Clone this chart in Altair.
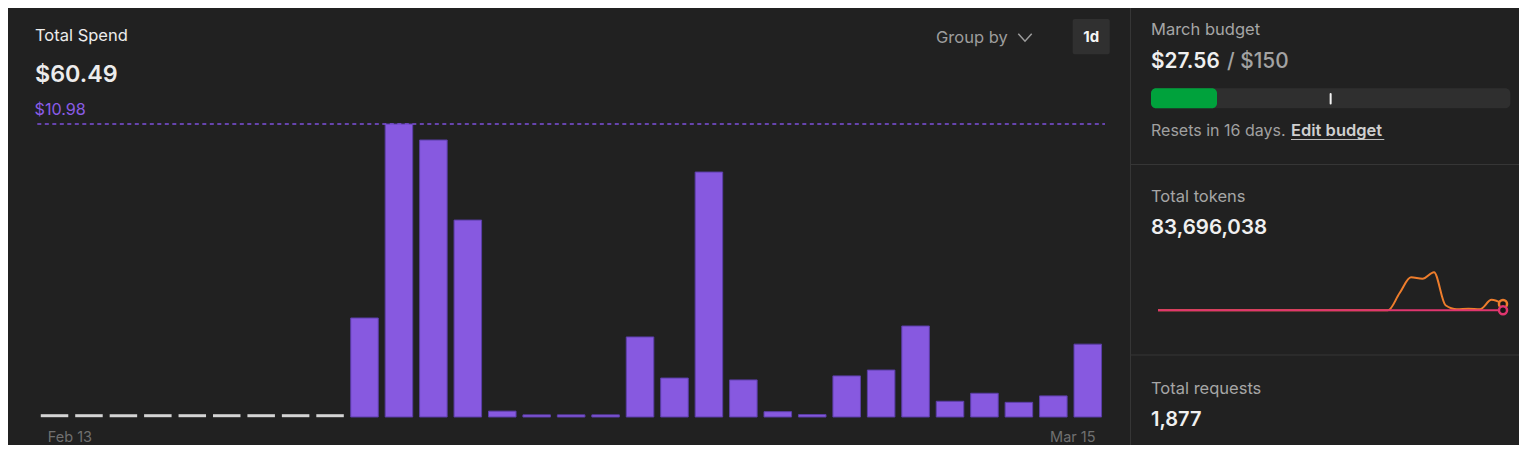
import altair as alt
import pandas as pd

# ---------------- data ----------------
dates = [
    "2023-02-13", "2023-02-14", "2023-02-15", "2023-02-16", "2023-02-17", "2023-02-18",
    "2023-02-19", "2023-02-20", "2023-02-21", "2023-02-22", "2023-02-23", "2023-02-24",
    "2023-02-25", "2023-02-26", "2023-02-27", "2023-02-28", "2023-03-01", "2023-03-02",
    "2023-03-03", "2023-03-04", "2023-03-05", "2023-03-06", "2023-03-07", "2023-03-08",
    "2023-03-09", "2023-03-10", "2023-03-11", "2023-03-12", "2023-03-13", "2023-03-14",
    "2023-03-15",
]
spend = [
    0, 0, 0, 0, 0, 0, 0, 0, 0,
    3.71, 10.98, 10.38, 7.38, 0.22, 0.08, 0.08, 0.08, 3.00, 1.46, 9.18,
    1.39, 0.20, 0.09, 1.54, 1.76, 3.41, 0.59, 0.89, 0.55, 0.79, 2.73,
]
tokens_a = [  # millions per day (orange series)
    0, 0, 0, 0, 0, 0, 0, 0, 0, 0, 0, 0, 0, 0, 0, 0, 0, 0, 0, 0, 0,
    9.8, 19.0, 18.1, 21.9, 2.9, 0.6, 0.9, 0.6, 6.0, 3.6,
]
tokens_b = [0] * 31  # pink series

total_spend = "$60.49"
budget_spent = 27.56
budget_limit = 150
budget_alert = 75
resets_days = 16
total_tokens = "83,696,038"
total_requests = "1,877"

# ---------------- style ----------------
FONT = "Inter"
BG = "#212121"
PURPLE = "#8759e0"
PURPLE_EDGE = "#5b3ea8"
ORANGE = "#ee7d2c"
PINK = "#e0366f"
GREEN = "#00a23c"
SEP = "#363636"
GREY_TXT = "#a6a6a6"
W, H = 1511, 437

one = pd.DataFrame({"k": [0]})


def label(text, x, y, size=16.5, color=GREY_TXT, weight=400, align="left"):
    return alt.Chart(one).mark_text(
        font=FONT, fontSize=size, fontWeight=weight, color=color,
        align=align, baseline="alphabetic",
    ).encode(x=alt.value(x), y=alt.value(y), text=alt.value(text))


# ---------------- spend bar chart ----------------
spend_df = pd.DataFrame({"date": dates, "spend": spend})
x_range = [29.3, 1097]
xs = alt.Scale(domain=dates, range=x_range, paddingInner=0.2, paddingOuter=0.1)
ys = alt.Scale(domain=[0, max(spend)], range=[409, 116], nice=False, zero=True)

bars = alt.Chart(spend_df).transform_filter("datum.spend > 0").mark_bar(
    color=PURPLE, stroke=PURPLE_EDGE, strokeWidth=1
).encode(
    x=alt.X("date:O", scale=xs, axis=None),
    y=alt.Y("spend:Q", scale=ys, axis=None),
)
zeros = alt.Chart(spend_df).transform_filter("datum.spend == 0").mark_tick(
    color="#d4d4d4", thickness=3, size=27.5, yOffset=-1.3, opacity=1
).encode(
    x=alt.X("date:O", scale=xs, axis=None),
    y=alt.Y("spend:Q", scale=ys, axis=None),
)
maxline = alt.Chart(spend_df).transform_aggregate(m="max(spend)").mark_rule(
    color="#7d50dc", strokeDash=[4, 3.5], strokeWidth=1.3
).encode(
    y=alt.Y("m:Q", scale=ys, axis=None),
    x=alt.value(x_range[0]), x2=alt.value(x_range[1]),
)
maxlabel = alt.Chart(spend_df).transform_aggregate(m="max(spend)").transform_calculate(
    lbl="'$' + format(datum.m, '.2f')"
).mark_text(
    font=FONT, fontSize=16.2, color="#8a5ce6", align="left", baseline="alphabetic", dy=-9
).encode(
    y=alt.Y("m:Q", scale=ys, axis=None), x=alt.value(26.5), text="lbl:N"
)
first_lbl = alt.Chart(spend_df).transform_filter(f"datum.date == '{dates[0]}'").transform_calculate(
    lbl="utcFormat(toDate(datum.date), '%b %-d')"
).mark_text(
    font=FONT, fontSize=14.5, color="#707070", align="left", baseline="alphabetic", dx=7
).encode(
    x=alt.X("date:O", scale=xs, axis=None, bandPosition=0), y=alt.value(434), text="lbl:N"
)
last_lbl = alt.Chart(spend_df).transform_filter(f"datum.date == '{dates[-1]}'").transform_calculate(
    lbl="utcFormat(toDate(datum.date), '%b %-d')"
).mark_text(
    font=FONT, fontSize=14.5, color="#707070", align="right", baseline="alphabetic", dx=-6
).encode(
    x=alt.X("date:O", scale=xs, axis=None, bandPosition=1), y=alt.value(434), text="lbl:N"
)
spend_chart = alt.layer(bars, zeros, maxline, maxlabel, first_lbl, last_lbl)

# ---------------- budget bar ----------------
budget_df = pd.DataFrame({"start": [0], "spent": [budget_spent], "limit": [budget_limit], "alert": [budget_alert]})
xb = alt.Scale(domain=[0, budget_limit], range=[1143, 1502.3], nice=False)
track = alt.Chart(budget_df).mark_bar(color="#2f2f2f", cornerRadius=5).encode(
    x=alt.X("start:Q", scale=xb, axis=None), x2="limit:Q",
    y=alt.value(80.3), y2=alt.value(100.3),
)
used = alt.Chart(budget_df).mark_bar(color=GREEN, cornerRadius=5).encode(
    x=alt.X("start:Q", scale=xb, axis=None), x2="spent:Q",
    y=alt.value(80.3), y2=alt.value(100.3),
)
alert = alt.Chart(budget_df).mark_rule(color="#f2f2f2", strokeWidth=2, strokeCap="round").encode(
    x=alt.X("alert:Q", scale=xb, axis=None), y=alt.value(86), y2=alt.value(95.5),
)
budget_chart = alt.layer(track, used, alert)

# ---------------- tokens sparkline ----------------
tok_df = pd.DataFrame({"date": dates, "a": tokens_a, "b": tokens_b})
tok_end = tok_df.tail(1)
xt = alt.Scale(range=[1150, 1495], nice=False)
yt = alt.Scale(domain=[0, 23], range=[302.3, 262.3], nice=False)
line_a = alt.Chart(tok_df).mark_line(color=ORANGE, strokeWidth=2, interpolate="monotone").encode(
    x=alt.X("date:T", scale=xt, axis=None), y=alt.Y("a:Q", scale=yt, axis=None)
)
end_a = alt.Chart(tok_end).mark_circle(
    fill="#161616", stroke=ORANGE, strokeWidth=2.5, size=65, opacity=1
).encode(x=alt.X("date:T", scale=xt, axis=None), y=alt.Y("a:Q", scale=yt, axis=None))
line_b = alt.Chart(tok_df).mark_line(color=PINK, strokeWidth=2, interpolate="monotone").encode(
    x=alt.X("date:T", scale=xt, axis=None), y=alt.Y("b:Q", scale=yt, axis=None)
)
end_b = alt.Chart(tok_end).mark_circle(
    fill="#161616", stroke=PINK, strokeWidth=2.5, size=65, opacity=1
).encode(x=alt.X("date:T", scale=xt, axis=None), y=alt.Y("b:Q", scale=yt, axis=None))
tokens_chart = alt.layer(line_a, end_a, line_b, end_b)

# ---------------- chrome ----------------
vsep = alt.Chart(one).mark_rule(color=SEP, strokeWidth=1).encode(
    x=alt.value(1122.5), y=alt.value(0), y2=alt.value(H))
hsep1 = alt.Chart(one).mark_rule(color=SEP, strokeWidth=1).encode(
    x=alt.value(1122.5), x2=alt.value(W), y=alt.value(156.5))
hsep2 = alt.Chart(one).mark_rule(color=SEP, strokeWidth=1).encode(
    x=alt.value(1122.5), x2=alt.value(W), y=alt.value(347))
button = alt.Chart(one).mark_rect(color="#303030", cornerRadius=2).encode(
    x=alt.value(1064.7), x2=alt.value(1101.7), y=alt.value(11), y2=alt.value(46.3))
chevron = alt.Chart(one).mark_point(
    shape="M-1,-0.55L0,0.55L1,-0.55", filled=False, stroke="#9d9d9d", strokeWidth=1.5,
    size=180, opacity=1
).encode(x=alt.value(1017), y=alt.value(29.5))
underline = alt.Chart(one).mark_rule(color="#bdbdbd", strokeWidth=1).encode(
    x=alt.value(1283), x2=alt.value(1376.3), y=alt.value(131.5))

texts = [
    label("Total Spend", 27, 32.7, color="#ececec"),
    label(total_spend, 27, 74.3, size=23.3, color="#ececec", weight=600),
    label("Group by", 928, 34.5, color="#9d9d9d"),
    label("1d", 1083.2, 34, size=15, color="#f5f5f5", weight=700, align="center"),
    label("March budget", 1143, 27.3),
    label(f"${budget_spent:.2f}", 1143, 59.5, size=20.8, color="#f0f0f0", weight=600),
    label(f"/ ${budget_limit}", 1219, 59.5, size=20.8, color="#a3a3a3", weight=500),
    label(f"Resets in {resets_days} days.", 1143, 128, size=16, color="#a0a0a0"),
    label("Edit budget", 1283, 128, color="#cfcfcf", weight=600),
    label("Total tokens", 1143, 194),
    label(total_tokens, 1143, 226, size=20.5, color="#f0f0f0", weight=600),
    label("Total requests", 1143, 385.5),
    label(total_requests, 1143, 417.5, size=20, color="#f0f0f0", weight=600),
]

chart = alt.layer(
    vsep, hsep1, hsep2, button, chevron, underline,
    spend_chart, budget_chart, tokens_chart, *texts,
).resolve_scale(x="independent", y="independent").properties(
    width=W, height=H, background=BG, padding=0, autosize=alt.AutoSizeParams(type="none")
).configure_view(strokeWidth=0)

chart.save("out.html", embed_options={"renderer": "svg", "actions": False})
